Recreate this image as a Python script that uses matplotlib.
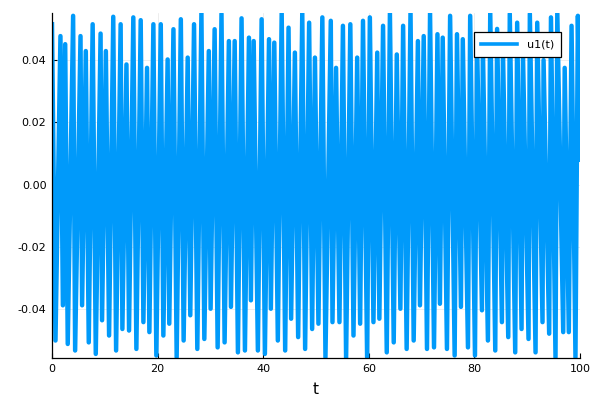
import matplotlib
matplotlib.use("Agg")
import matplotlib.pyplot as plt
import numpy as np

# Local maxima of u1(t) (time, value)
t_max = [0.0, 1.6, 2.5, 4.0, 5.4, 6.4, 7.7, 9.2, 10.2, 11.6, 13.0, 14.1, 15.4, 16.8, 18.0,
         19.2, 20.6, 21.9, 23.0, 24.4, 25.7, 26.9, 28.3, 29.7, 30.8, 32.1, 33.5, 34.6, 35.9,
         37.3, 38.2, 39.7, 41.1, 42.1, 43.5, 44.8, 46.0, 47.4, 48.7, 49.8, 51.2, 52.8, 53.8,
         55.1, 56.5, 57.8, 58.9, 60.2, 61.6, 62.7, 64.0, 65.3, 66.5, 67.9, 69.3, 70.4, 71.6,
         73.0, 74.0, 75.4, 76.7, 77.8, 79.2, 80.5, 81.6, 83.0, 84.3, 85.4, 86.7, 88.1, 89.2,
         90.5, 91.9, 93.1, 94.5, 95.7, 97.1, 98.4, 99.6]
u_max = [0.0515, 0.0477, 0.0451, 0.0542, 0.0477, 0.0429, 0.0515, 0.0485, 0.0429, 0.0539,
         0.0515, 0.0386, 0.0537, 0.0528, 0.0375, 0.0515, 0.0515, 0.0402, 0.0499, 0.0531,
         0.0408, 0.0515, 0.0553, 0.0429, 0.0499, 0.0549, 0.0461, 0.0461, 0.0534, 0.0472,
         0.0461, 0.0531, 0.0467, 0.0456, 0.0553, 0.0504, 0.0424, 0.0553, 0.0520, 0.0408,
         0.0537, 0.0526, 0.0375, 0.0510, 0.0515, 0.0408, 0.0526, 0.0537, 0.0424, 0.0510,
         0.0553, 0.0418, 0.0510, 0.0558, 0.0461, 0.0477, 0.0553, 0.0483, 0.0472, 0.0542,
         0.0483, 0.0467, 0.0542, 0.0460, 0.0450, 0.0553, 0.0500, 0.0440, 0.0549, 0.0520,
         0.0420, 0.0549, 0.0520, 0.0400, 0.0537, 0.0553, 0.0375, 0.0510, 0.0542]

# Local minima of u1(t) (time, value)
t_min = [0.66, 2.06, 2.98, 4.38, 5.70, 6.96, 8.29, 9.48, 10.81, 12.14, 13.33, 14.59, 15.98,
         17.31, 18.44, 19.76, 21.09, 22.21, 23.61, 24.93, 26.19, 27.52, 28.85, 30.04, 31.37,
         32.69, 33.89, 35.21, 36.54, 37.67, 38.99, 40.32, 41.45, 42.77, 44.16, 45.29, 46.62,
         47.94, 49.27, 50.46, 51.79, 53.12, 54.44, 55.70, 57.10, 58.36, 59.68, 60.88, 62.00,
         63.40, 64.72, 65.98, 67.17, 68.50, 69.69, 71.02, 72.35, 73.47, 74.80, 76.26, 77.45,
         78.78, 80.11, 81.43, 82.56, 83.95, 85.21, 86.41, 87.73, 88.93, 90.25, 91.58, 92.90,
         94.16, 95.36, 96.82, 97.88, 99.14]
u_min = [-0.0500, -0.0387, -0.0511, -0.0532, -0.0387, -0.0506, -0.0543, -0.0435, -0.0484,
         -0.0532, -0.0463, -0.0468, -0.0527, -0.0441, -0.0473, -0.0548, -0.0484, -0.0446,
         -0.0554, -0.0500, -0.0419, -0.0527, -0.0495, -0.0398, -0.0522, -0.0506, -0.0392,
         -0.0538, -0.0532, -0.0371, -0.0532, -0.0543, -0.0398, -0.0500, -0.0532, -0.0430,
         -0.0489, -0.0527, -0.0463, -0.0446, -0.0554, -0.0441, -0.0441, -0.0559, -0.0484,
         -0.0446, -0.0554, -0.0441, -0.0430, -0.0538, -0.0506, -0.0398, -0.0527, -0.0500,
         -0.0387, -0.0527, -0.0522, -0.0382, -0.0527, -0.0548, -0.0392, -0.0522, -0.0548,
         -0.0403, -0.0500, -0.0532, -0.0441, -0.0489, -0.0538, -0.0463, -0.0495, -0.0538,
         -0.0441, -0.0478, -0.0554, -0.0473, -0.0473, -0.0554]

t_end = [100.0]
u_end = [0.008]

y_ticks = [-0.04, -0.02, 0.0, 0.02, 0.04]
y_tick_labels = ["-0.04", "-0.02", "0.00", "0.02", "0.04"]
x_ticks = [0, 20, 40, 60, 80, 100]

# interleave extremes in time order
t_all = np.array(t_max + t_min + t_end)
u_all = np.array(u_max + u_min + u_end)
order = np.argsort(t_all, kind="stable")
t_all = t_all[order]
u_all = u_all[order]

fig = plt.figure(figsize=(6, 4), dpi=100)
ax = fig.add_axes([52/600, 1-358/400, (580-52)/600, (358-13)/400])

ax.plot(t_all, u_all, color="#009AFA", linewidth=3.2, label="u1(t)",
        solid_joinstyle="round")

ax.set_xlim(0, 100)
ax.set_ylim(-0.0556, 0.0551)
ax.set_xticks(x_ticks)
ax.set_xticklabels([str(v) for v in x_ticks])
ax.set_yticks(y_ticks)
ax.set_yticklabels(y_tick_labels)
ax.grid(True, color="black", alpha=0.1, linewidth=0.5)
ax.set_axisbelow(True)
for s in ["top", "right"]:
    ax.spines[s].set_visible(False)
for s in ["left", "bottom"]:
    ax.spines[s].set_linewidth(0.9)
    ax.spines[s].set_color("black")
ax.tick_params(direction="in", length=3.5, width=0.8, labelsize=8, colors="black", pad=4)
ax.set_xlabel("t", fontsize=11, labelpad=6)

leg = ax.legend(loc="upper right", bbox_to_anchor=(0.975, 0.96), fontsize=8,
                fancybox=False, framealpha=1, edgecolor="black", handlelength=3.2,
                borderpad=0.65, handletextpad=0.9)
leg.get_frame().set_linewidth(0.9)
for h in leg.get_lines():
    h.set_linewidth(2.6)

fig.savefig("out.png", dpi=100)
